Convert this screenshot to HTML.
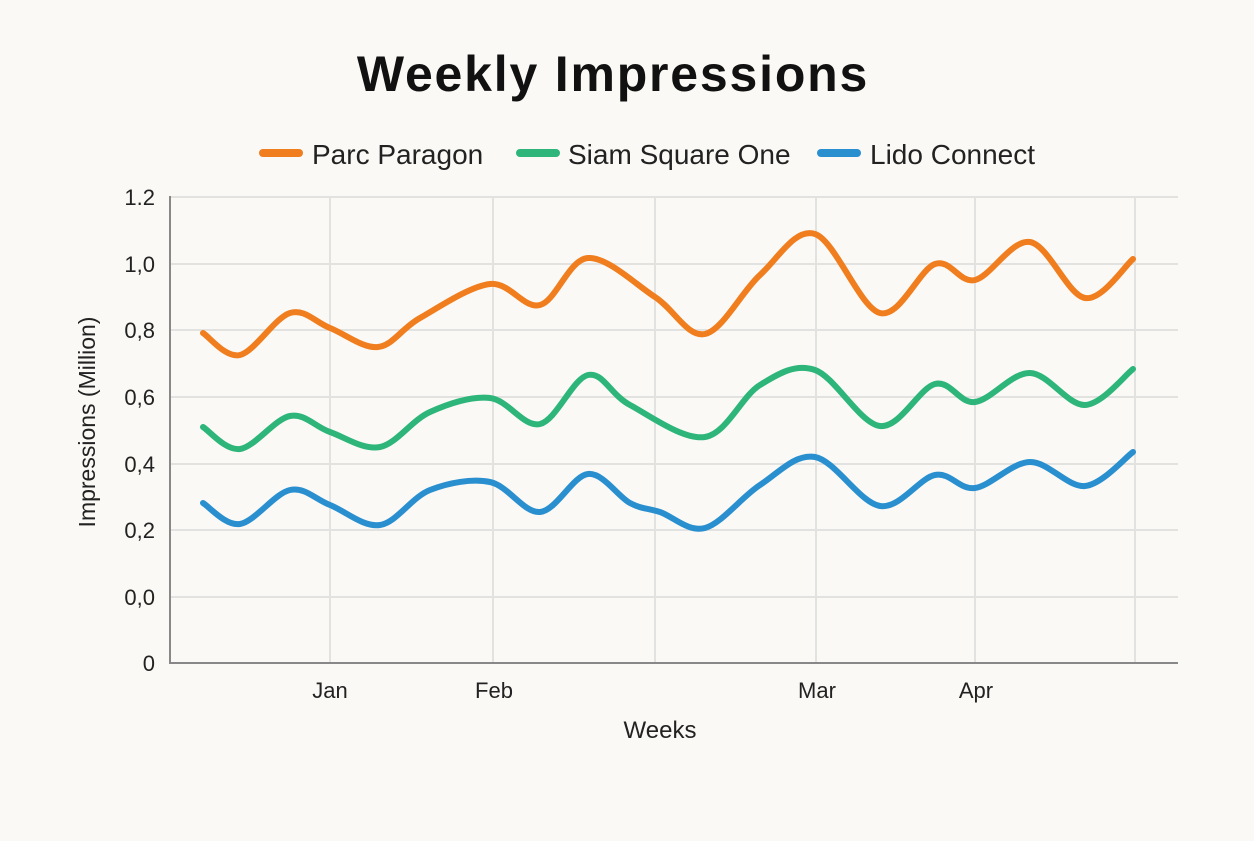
<!DOCTYPE html>
<html><head><meta charset="utf-8"><style>
html,body{margin:0;padding:0;background:#faf9f5;}
</style></head><body>
<svg id="s" width="1254" height="836" viewBox="0 0 1254 836" xmlns="http://www.w3.org/2000/svg" font-family="Liberation Sans, sans-serif">
<rect width="1254" height="836" fill="#faf9f5"/>
<text x="613" y="91" text-anchor="middle" font-size="50" font-weight="bold" letter-spacing="1.8" fill="#111">Weekly Impressions</text>
<g font-size="28" fill="#222">
<line x1="263" y1="153" x2="299" y2="153" stroke="#f07d1e" stroke-width="8" stroke-linecap="round"/>
<text x="312" y="164">Parc Paragon</text>
<line x1="520" y1="153" x2="556" y2="153" stroke="#2db57a" stroke-width="8" stroke-linecap="round"/>
<text x="568" y="164">Siam Square One</text>
<line x1="821" y1="153" x2="857" y2="153" stroke="#2a8fcf" stroke-width="8" stroke-linecap="round"/>
<text x="870" y="164">Lido Connect</text>
</g>
<g stroke="#e2e2e0" stroke-width="2">
<line x1="170" y1="197" x2="1178" y2="197"/>
<line x1="170" y1="264" x2="1178" y2="264"/>
<line x1="170" y1="330" x2="1178" y2="330"/>
<line x1="170" y1="397" x2="1178" y2="397"/>
<line x1="170" y1="464" x2="1178" y2="464"/>
<line x1="170" y1="530" x2="1178" y2="530"/>
<line x1="170" y1="597" x2="1178" y2="597"/>
<line x1="330" y1="197" x2="330" y2="663"/>
<line x1="493" y1="197" x2="493" y2="663"/>
<line x1="655" y1="197" x2="655" y2="663"/>
<line x1="816" y1="197" x2="816" y2="663"/>
<line x1="975" y1="197" x2="975" y2="663"/>
<line x1="1135" y1="197" x2="1135" y2="663"/>
</g>
<line x1="170" y1="196" x2="170" y2="664" stroke="#888" stroke-width="2"/>
<line x1="169" y1="663" x2="1178" y2="663" stroke="#888" stroke-width="2"/>
<g font-size="22" fill="#222" text-anchor="end">
<text x="155" y="205">1.2</text>
<text x="155" y="272">1,0</text>
<text x="155" y="338">0,8</text>
<text x="155" y="405">0,6</text>
<text x="155" y="472">0,4</text>
<text x="155" y="538">0,2</text>
<text x="155" y="605">0,0</text>
<text x="155" y="671">0</text>
</g>
<g font-size="22" fill="#222" text-anchor="middle">
<text x="330" y="698">Jan</text>
<text x="494" y="698">Feb</text>
<text x="817" y="698">Mar</text>
<text x="976" y="698">Apr</text>
<text x="660" y="738" font-size="24">Weeks</text>
</g>
<text transform="translate(95,422) rotate(-90)" text-anchor="middle" font-size="23" fill="#222">Impressions (Million)</text>
<path id="po" fill="none" stroke="#f07d1e" stroke-width="6" stroke-linecap="round" stroke-linejoin="round"/>
<path id="pg" fill="none" stroke="#2db57a" stroke-width="6" stroke-linecap="round" stroke-linejoin="round"/>
<path id="pb" fill="none" stroke="#2a8fcf" stroke-width="6" stroke-linecap="round" stroke-linejoin="round"/>
</svg>
<script>
function cr(p){var d="M"+p[0][0]+","+p[0][1];for(var i=0;i<p.length-1;i++){var a=p[i-1]||p[i],b=p[i],c=p[i+1],e=p[i+2]||c;var t=6;d+=" C"+(b[0]+(c[0]-a[0])/t)+","+(b[1]+(c[1]-a[1])/t)+" "+(c[0]-(e[0]-b[0])/t)+","+(c[1]-(e[1]-b[1])/t)+" "+c[0]+","+c[1];}return d;}
var o=[[203,333],[240,355],[290,313],[330,328],[378,347],[420,318],[490,284],[540,305],[588,258],[655,297],[705,334],[760,275],[815,234],[880,313],[935,264],[975,280],[1030,242],[1085,298],[1133,259]];
var g=[[203,427],[240,449],[290,416],[330,432],[380,447],[430,412],[490,398],[540,424],[588,375],[630,405],[705,437],[760,385],[815,370],[880,426],[935,384],[975,402],[1030,373],[1085,405],[1133,369]];
var b=[[203,503],[240,524],[290,490],[330,505],[380,525],[430,490],[490,482],[540,512],[588,474],[630,503],[660,512],[705,528],[760,485],[815,457],[880,506],[935,475],[975,488],[1030,462],[1085,486],[1133,452]];
document.getElementById("po").setAttribute("d",cr(o));
document.getElementById("pg").setAttribute("d",cr(g));
document.getElementById("pb").setAttribute("d",cr(b));
</script>
</body></html>
